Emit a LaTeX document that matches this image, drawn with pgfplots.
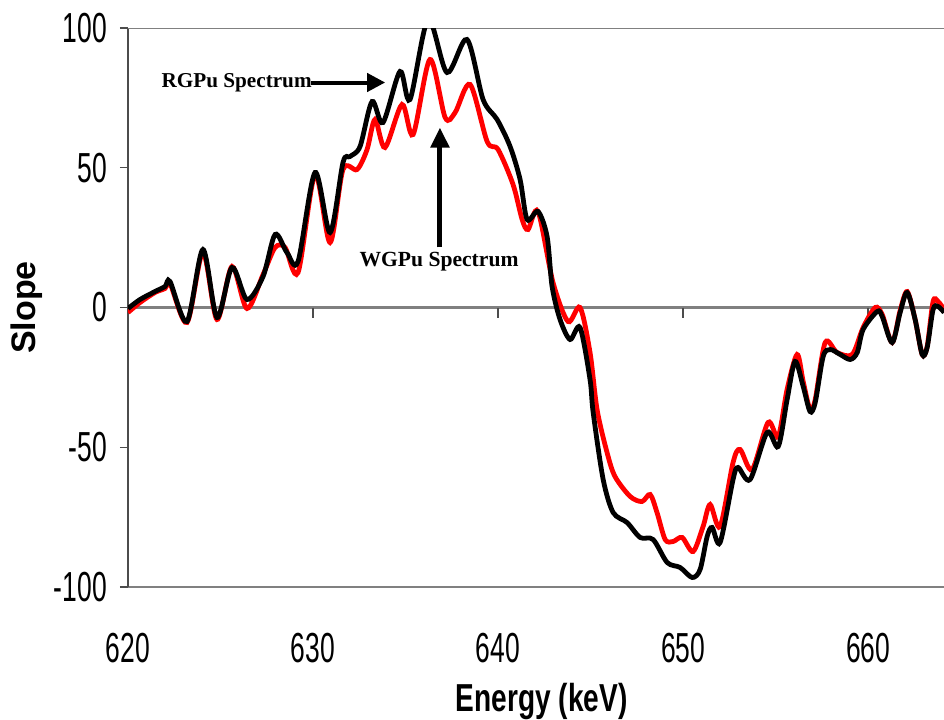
\documentclass[border=0pt]{standalone}
\usepackage{fontspec}
\setmainfont{Liberation Sans}
\newfontfamily\timesfont{Liberation Serif}
\usepackage{graphicx}
\usepackage{pgfplots}
\pgfplotsset{compat=1.18}
\usetikzlibrary{arrows.meta}
\newcommand\sq[1]{\scalebox{0.63}[1]{#1}}
\begin{document}
\begin{tikzpicture}
\useasboundingbox (0,0) rectangle (472pt,359.5pt);
\begin{axis}[
  at={(64pt,66pt)}, anchor=south west,
  width=408pt, height=279.5pt, scale only axis,
  xmin=620, xmax=664.1, ymin=-100, ymax=100,
  axis lines=left, axis line style={-},
  x axis line style={draw=gray, line width=1.1pt},
  y axis line style={draw=black!70, line width=0.9pt},
  xtick={620,630,640,650,660},
  xticklabels={\sq{620},\sq{630},\sq{640},\sq{650},\sq{660}},
  ytick={-100,-50,0,50,100},
  yticklabels={\sq{-100},\sq{-50},\sq{0},\sq{50},\sq{100}},
  x tick style={draw=none},
  y tick style={draw=black!70, line width=0.7pt},
  tick align=outside, major tick length=4pt,
  tick label style={font=\fontsize{21}{24}\selectfont},
  xticklabel style={anchor=center, yshift=-26.5pt},
  yticklabel style={anchor=east, xshift=-3pt},
  xlabel={\scalebox{0.72}[1]{\bfseries Energy (keV)}},
  xlabel style={font=\fontsize{19.5}{22}\selectfont, at={(axis description cs:0.507,-0.2236)}, anchor=base},
  ylabel={\bfseries Slope},
  ylabel style={font=\fontsize{17}{20}\selectfont, at={(axis description cs:-0.1238,0.5)}, anchor=center},
  every axis plot/.append style={line width=2.4pt, smooth, tension=0.5},
]
\draw[gray, line width=1.1pt] (axis cs:620,100) -- (axis cs:664.1,100);
\draw[gray, line width=1.1pt] (axis cs:620,0) -- (axis cs:664.1,0);
\pgfplotsinvokeforeach{630,640,650,660}{
  \draw[black!70, line width=0.7pt] (axis cs:#1,0) -- ([yshift=-5pt]axis cs:#1,0);
}
% WGPu
\addplot[color=red] coordinates {
(620.0,-1.79) (620.65,1.79) (621.46,5.37) (622.0,6.80) (622.27,8.59)
(623.19,-5.37) (624.05,19.68) (624.81,-4.29) (625.62,14.67) (626.43,-0.36)
(627.30,11.81) (627.95,21.47) (628.49,21.47) (629.19,12.52) (630.11,47.58)
(630.92,23.26) (631.62,49.37) (632.38,49.37) (632.92,56.53) (633.35,67.26)
(633.89,57.24) (634.81,72.63) (635.41,61.90) (636.32,88.73) (637.14,67.98)
(637.68,69.77) (638.49,79.79) (639.41,59.39) (640.0,56.53) (640.81,44.01)
(641.30,31.48) (641.62,27.91) (642.16,34.35) (642.97,8.94) (643.78,-5.01)
(644.43,0.0) (644.97,-16.10) (645.35,-36.49) (645.89,-51.88) (646.32,-60.47)
(647.14,-67.62) (647.78,-69.41) (648.22,-66.91) (648.59,-73.35) (649.03,-83.01)
(649.46,-83.72) (649.95,-82.29) (650.54,-87.30) (651.08,-78.35) (651.46,-70.48)
(652.0,-78.35) (652.70,-55.46) (653.08,-50.81) (653.73,-57.96) (654.59,-41.14)
(655.14,-46.15) (655.62,-29.34) (656.16,-16.82) (656.49,-26.48) (656.86,-36.49)
(657.14,-32.92) (657.68,-12.52) (658.32,-16.10) (659.14,-16.82) (659.73,-7.16)
(660.38,0.0) (660.76,-2.50) (661.30,-12.52) (661.73,-1.07) (662.11,5.72)
(662.54,-4.29) (662.92,-16.82) (663.19,-13.95) (663.51,2.15) (663.78,2.15)
(664.11,-0.72)
};
% RGPu
\addplot[color=black] coordinates {
(620.0,-0.36) (620.65,2.86) (621.46,5.72) (622.0,7.51) (622.27,9.30)
(623.19,-5.01) (624.05,20.75) (624.81,-3.58) (625.62,14.31) (626.43,2.86)
(627.30,11.09) (627.95,26.12) (628.59,19.68) (629.19,16.46) (630.11,48.30)
(630.92,26.83) (631.62,51.88) (632.0,54.03) (632.54,57.60) (633.19,73.70)
(633.78,66.19) (634.70,84.44) (635.24,74.42) (636.22,103.0) (637.24,84.08)
(638.32,95.89) (639.19,74.42) (639.95,67.26) (640.65,57.60) (641.19,45.80)
(641.57,31.48) (642.16,34.35) (642.65,25.40) (642.92,7.51) (643.35,-4.29)
(643.89,-11.45) (644.43,-7.16) (644.97,-25.76) (645.14,-37.57) (645.68,-61.54)
(646.22,-73.35) (646.97,-76.92) (647.68,-82.29) (648.38,-83.01) (649.14,-91.23)
(649.84,-93.02) (650.49,-96.60) (650.92,-93.74) (651.30,-81.93) (651.57,-78.71)
(652.0,-84.08) (652.70,-61.54) (652.97,-57.24) (653.62,-61.54) (654.54,-44.72)
(655.14,-49.73) (655.62,-33.0) (656.05,-19.32) (656.49,-28.26) (656.86,-37.21)
(657.14,-33.99) (657.57,-17.53) (657.95,-15.03) (658.49,-16.82) (659.03,-18.60)
(659.41,-16.10) (659.73,-7.87) (660.49,-1.43) (660.76,-3.22) (661.30,-12.52)
(661.73,-1.79) (662.11,5.37) (662.54,-4.29) (662.92,-16.82) (663.19,-14.31)
(663.51,-0.72) (663.78,0.36) (664.11,-1.79)
};
\node[font=\timesfont\bfseries\fontsize{10.6}{12}\selectfont, anchor=east, inner sep=0pt]
  at (axis cs:629.95,80.5) {RGPu Spectrum};
\draw[line width=2pt, -{Triangle[length=9pt,width=9pt]}] (axis cs:629.9,80.5) -- (axis cs:633.9,80.5);
\node[font=\timesfont\bfseries\fontsize{10.8}{12}\selectfont, inner sep=0pt]
  at (axis cs:636.81,16.46) {WGPu Spectrum};
\draw[line width=2.5pt, -{Triangle[length=10pt,width=9pt]}] (axis cs:636.86,21.5) -- (axis cs:636.86,64.4);
\end{axis}
\end{tikzpicture}
\end{document}
